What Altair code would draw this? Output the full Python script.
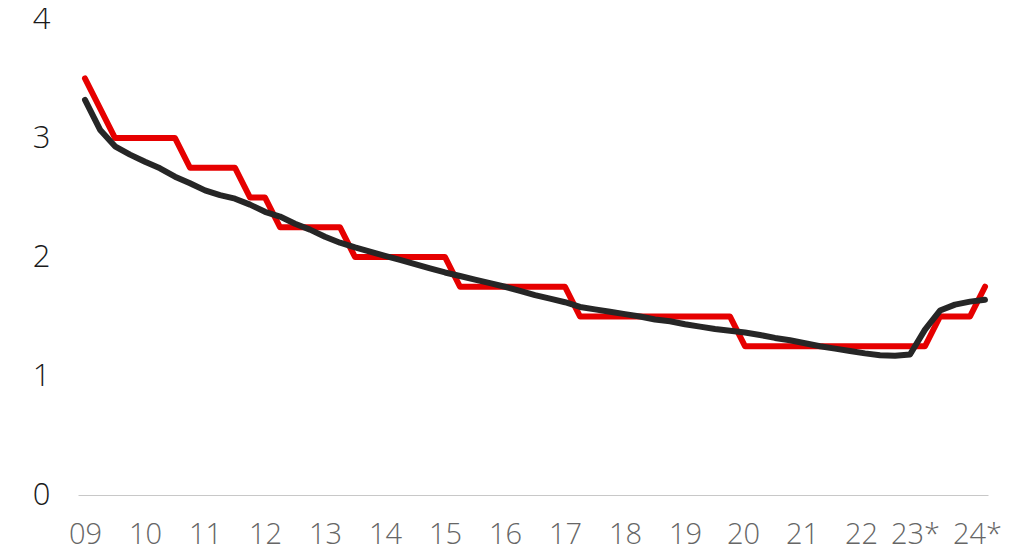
import altair as alt
import pandas as pd

# Quarter index 0 = start of 2009, 4 per year
year_labels = ["09", "10", "11", "12", "13", "14", "15", "16", "17", "18",
               "19", "20", "21", "22", "23*", "24*"]
year_ticks = [0, 4, 8, 12, 16, 20, 24, 28, 32, 36, 40, 44, 48, 52, 56, 60]

red_quarter = [0, 2, 3, 4, 5, 6, 7, 8, 9, 10, 11, 12, 13, 14, 15, 16, 17,
               18, 19, 20, 21, 22, 23, 24, 25, 26, 27, 28, 29, 30, 31, 32,
               33, 34, 35, 36, 37, 38, 39, 40, 41, 42, 43, 44, 45, 46, 47,
               48, 49, 50, 51, 52, 53, 54, 55, 56, 57, 58, 59, 60]
red_value = [3.5, 3.0, 3.0, 3.0, 3.0, 3.0, 2.75, 2.75, 2.75, 2.75, 2.5, 2.5,
             2.25, 2.25, 2.25, 2.25, 2.25, 2.0, 2.0, 2.0, 2.0, 2.0, 2.0, 2.0,
             1.75, 1.75, 1.75, 1.75, 1.75, 1.75, 1.75, 1.75, 1.5, 1.5, 1.5,
             1.5, 1.5, 1.5, 1.5, 1.5, 1.5, 1.5, 1.5, 1.25, 1.25, 1.25, 1.25,
             1.25, 1.25, 1.25, 1.25, 1.25, 1.25, 1.25, 1.25, 1.25, 1.5, 1.5,
             1.5, 1.75]

black_quarter = [0, 1, 2, 3, 4, 5, 6, 7, 8, 9, 10, 11, 12, 13, 14, 15, 16,
                 17, 18, 19, 20, 21, 22, 23, 24, 25, 26, 27, 28, 29, 30, 31,
                 32, 33, 34, 35, 36, 37, 38, 39, 40, 41, 42, 43, 44, 45, 46,
                 47, 48, 49, 50, 51, 52, 53, 54, 55, 56, 57, 58, 59, 60]
black_value = [3.32, 3.07, 2.93, 2.86, 2.80, 2.745, 2.675, 2.62, 2.56, 2.52,
               2.49, 2.44, 2.38, 2.34, 2.28, 2.23, 2.17, 2.12, 2.08, 2.045,
               2.01, 1.975, 1.94, 1.905, 1.87, 1.84, 1.81, 1.78, 1.75, 1.715,
               1.68, 1.65, 1.62, 1.58, 1.56, 1.54, 1.52, 1.50, 1.475, 1.46,
               1.435, 1.415, 1.395, 1.38, 1.365, 1.345, 1.32, 1.30, 1.275,
               1.25, 1.23, 1.21, 1.19, 1.175, 1.17, 1.18, 1.39, 1.55, 1.60,
               1.625, 1.64]

red_df = pd.DataFrame({"q": red_quarter, "v": red_value})
black_df = pd.DataFrame({"q": black_quarter, "v": black_value})

label_arr = "[" + ",".join("'" + s + "'" for s in year_labels) + "]"

label_offset = {
    "condition": [
        {"test": "datum.value == 44", "value": -2},
        {"test": "datum.value == 48", "value": -3},
        {"test": "datum.value == 52", "value": -4},
        {"test": "datum.value == 56", "value": -10},
        {"test": "datum.value == 60", "value": -8},
    ],
    "value": 0,
}

x_enc = alt.X(
    "q:Q",
    scale=alt.Scale(domain=[-7 / 15, 60.2], nice=False, zero=False),
    axis=alt.Axis(
        values=year_ticks,
        labelExpr=label_arr + "[round(datum.value / 4)]",
        title=None, grid=False, ticks=False, domain=True,
        domainColor="#c8c8c8", domainWidth=1,
        labelFont="Open Sans", labelFontSize=29, labelFontWeight=300,
        labelColor="#666666", labelPadding=25, labelFlush=False,
        labelOverlap=False, labelOffset=label_offset,
    ),
)
y_enc = alt.Y(
    "v:Q",
    scale=alt.Scale(domain=[0, 4], nice=False),
    axis=alt.Axis(
        values=[0, 1, 2, 3, 4], format="d",
        title=None, grid=False, ticks=False, domain=False,
        labelFont="Open Sans", labelFontSize=31, labelFontWeight=300,
        labelColor="#1a1a1a", labelPadding=28,
    ),
)

red = alt.Chart(red_df).mark_line(
    color="#e60000", strokeWidth=6, strokeCap="round", strokeJoin="round"
).encode(x=x_enc, y=y_enc)

black = alt.Chart(black_df).mark_line(
    color="#262626", strokeWidth=6, strokeCap="round", strokeJoin="round"
).encode(x=x_enc, y=y_enc)

chart = alt.layer(red, black).properties(
    width=910, height=476,
    background="white",
    autosize=alt.AutoSizeParams(type="none"),
    padding={"left": 70, "top": 11, "right": 20, "bottom": 58},
).configure_view(stroke=None, strokeWidth=0)

chart.save("out.html", embed_options={"renderer": "svg", "actions": False})
